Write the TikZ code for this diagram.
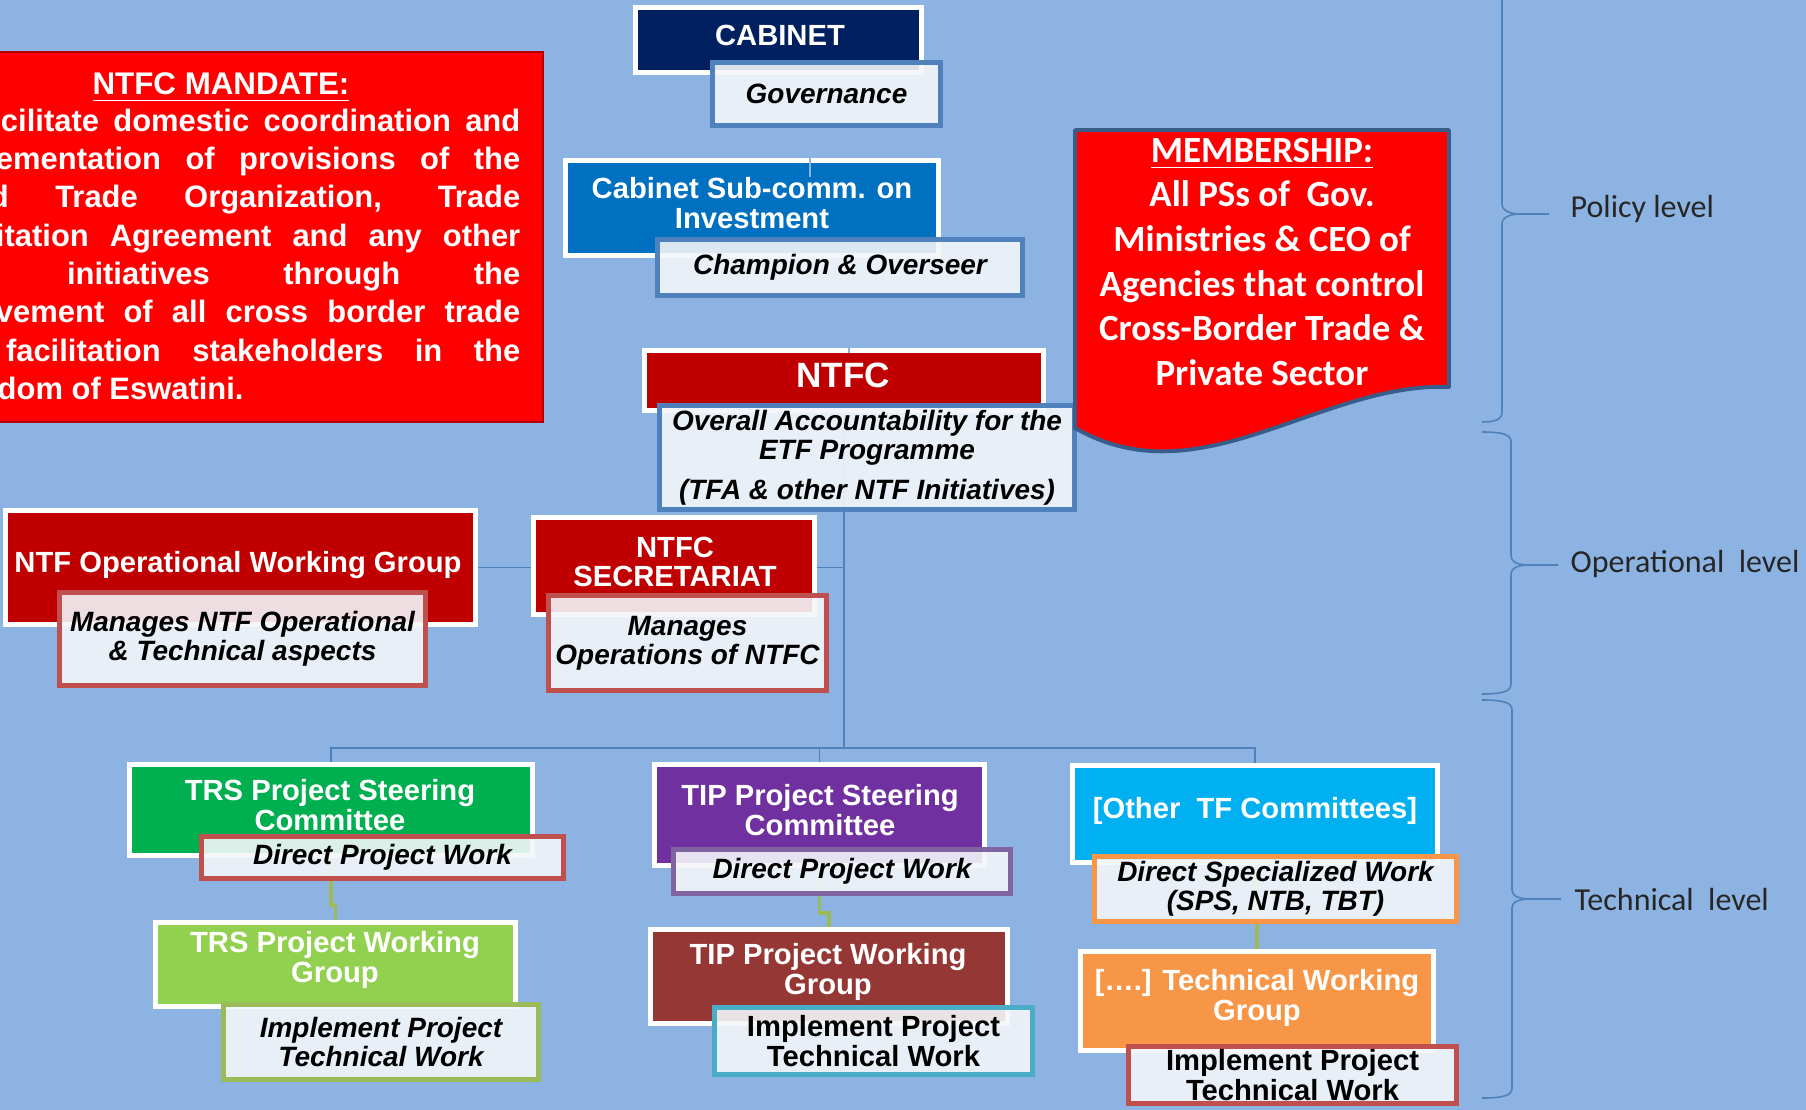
\documentclass[tikz,border=0pt]{standalone}
\usepackage{fontspec}
\setmainfont{Liberation Sans}
\newfontfamily\calibri{Carlito}
\usetikzlibrary{positioning}
\pgfdeclarelayer{back}
\pgfsetlayers{back,main}

\definecolor{bgblue}{HTML}{8DB3E2}
\definecolor{linkblue}{HTML}{4F81BD}
\definecolor{navy}{HTML}{002060}
\definecolor{subblue}{HTML}{0070C0}
\definecolor{deepred}{HTML}{C00000}
\definecolor{trsgreen}{HTML}{00B050}
\definecolor{limegreen}{HTML}{92D050}
\definecolor{tippurple}{HTML}{7030A0}
\definecolor{tipbrown}{HTML}{953735}
\definecolor{othcyan}{HTML}{00B0F0}
\definecolor{othorange}{HTML}{F79646}
\definecolor{paper}{HTML}{F3F6FA}
\definecolor{roleblue}{HTML}{4F81BD}
\definecolor{rolered}{HTML}{C0504D}
\definecolor{roleolive}{HTML}{9BBB59}
\definecolor{rolepurple}{HTML}{8064A2}
\definecolor{roleaqua}{HTML}{4BACC6}
\definecolor{memborder}{HTML}{385D8A}

\newcommand\unitfont{\bfseries\fontsize{8.3pt}{8.5pt}\selectfont}
\newcommand\rolefont{\bfseries\itshape\fontsize{7.95pt}{8.2pt}\selectfont}

\tikzset{
  unitbox/.style={draw=white,line width=1.42pt,inner sep=0pt},
  unittext/.style={text=white,align=center,inner sep=0pt,font=\unitfont},
  rolebox/.style={fill=paper,fill opacity=.9,text opacity=1,line width=1.3pt,
    align=center,inner sep=0pt,font=\rolefont},
  upright/.style={font=\bfseries\fontsize{8.3pt}{8.4pt}\selectfont},
  link/.style={draw=linkblue,line width=.5pt},
  worklink/.style={draw=roleolive,line width=1.1pt},
  stub/.style={draw=bgblue,line width=.45pt},
  brace/.style={draw=linkblue,line width=.45pt},
  mandline/.style={text=white,inner sep=0pt,font=\bfseries\fontsize{8.8pt}{9pt}\selectfont},
  memtext/.style={text=white,align=center,inner sep=0pt,
    font=\calibri\bfseries\fontsize{10.5pt}{12.7pt}\selectfont},
  level/.style={anchor=west,inner sep=0pt,text=black!85,
    font=\calibri\fontsize{9.1pt}{10pt}\selectfont}
}

\begin{document}
\begin{tikzpicture}[x=0.01cm,y=-0.01cm]
\useasboundingbox (0,0) rectangle (1806,1110);

% policy level
\node[unitbox,fill=navy,minimum width=2.86cm,minimum height=.65cm] (cab) at (778.5,40) {};
\node[unittext] (cab-t) at (780,35) {CABINET};
\node[rolebox,draw=roleblue,minimum width=2.28cm,minimum height=.63cm] (gov) at (826.5,94) {Governance};
\node[unitbox,fill=subblue,minimum width=3.73cm,minimum height=.95cm] (sub) at (752,208) {};
\node[unittext] (sub-t) at (752,203) {Cabinet Sub-comm. on\\Investment};
\node[rolebox,draw=roleblue,minimum width=3.65cm,minimum height=.56cm] (champ) at (840,267.5) {Champion \& Overseer};
\node[unitbox,fill=deepred,minimum width=3.99cm,minimum height=.60cm] (ntfc) at (844,380.5) {};
\node[unittext,font=\bfseries\fontsize{10pt}{10pt}\selectfont] (ntfc-t) at (843,375) {NTFC};
\node[rolebox,draw=roleblue,minimum width=4.15cm,minimum height=1.04cm] (overall) at (867,457.5)
  {\rule{0pt}{.06cm}Overall Accountability for the\\ETF Programme\\[.11cm](TFA \& other NTF Initiatives)};

% operational level
\node[unitbox,fill=deepred,minimum width=4.70cm,minimum height=1.14cm] (opwg) at (240.5,567.5) {};
\node[unittext] (opwg-t) at (238,565) {NTF Operational Working Group};
\node[rolebox,draw=rolered,minimum width=3.66cm,minimum height=.93cm] (mng1) at (242.5,639) {Manages NTF Operational\\\& Technical aspects};
\node[unitbox,fill=deepred,minimum width=2.81cm,minimum height=.97cm] (sec) at (674,566) {};
\node[unittext] (sec-t) at (675,562) {NTFC\\SECRETARIAT};
\node[rolebox,draw=rolered,minimum width=2.78cm,minimum height=.95cm] (mng2) at (687.5,643) {Manages\\Operations of NTFC};

% technical level
\node[unitbox,fill=trsgreen,minimum width=4.03cm,minimum height=.91cm] (trssc) at (331,810) {};
\node[unittext] (trssc-t) at (330,805) {TRS Project Steering\\Committee};
\node[rolebox,draw=rolered,minimum width=3.62cm,minimum height=.42cm] (dpw1) at (382.5,857.5) {Direct Project Work};
\node[unitbox,fill=limegreen,minimum width=3.60cm,minimum height=.84cm] (trswg) at (335.5,964.5) {};
\node[unittext] (trswg-t) at (335,960) {TRS Project Working\\Group};
\node[rolebox,draw=roleolive,minimum width=3.15cm,minimum height=.75cm] (impl1) at (381,1042) {Implement Project\\Technical Work};

\node[unitbox,fill=tippurple,minimum width=3.30cm,minimum height=1.01cm] (tipsc) at (819.5,815) {};
\node[unittext] (tipsc-t) at (820,810) {TIP Project Steering\\Committee};
\node[rolebox,draw=rolepurple,minimum width=3.37cm,minimum height=.44cm] (dpw2) at (842,871.5) {Direct Project Work};
\node[unitbox,fill=tipbrown,minimum width=3.57cm,minimum height=.94cm] (tipwg) at (829,976.5) {};
\node[unittext] (tipwg-t) at (828,972) {TIP Project Working\\Group};
\node[rolebox,upright,draw=roleaqua,minimum width=3.18cm,minimum height=.67cm] (impl2) at (873.5,1041) {Implement Project\\Technical Work};

\node[unitbox,fill=othcyan,minimum width=3.65cm,minimum height=.97cm] (othsc) at (1255,814) {};
\node[unittext] (othsc-t) at (1255,811) {[Other\ \ TF Committees]};
\node[rolebox,draw=othorange,minimum width=3.62cm,minimum height=.65cm] (dsw) at (1275.5,889) {Direct Specialized Work\\(SPS, NTB, TBT)};
\node[unitbox,fill=othorange,minimum width=3.53cm,minimum height=.99cm] (othwg) at (1257,1001) {};
\node[unittext] (othwg-t) at (1257,998) {[….] Technical Working\\Group};
\node[rolebox,upright,draw=rolered,minimum width=3.28cm,minimum height=.57cm] (impl3) at (1292.5,1075) {Implement Project\\Technical Work};

% connectors behind the boxes
\begin{pgfonlayer}{back}
\fill[bgblue] (0,0) rectangle (1806,1110);
\coordinate (busy) at (0,748);
\draw[link] (ntfc.south) -- (ntfc.south |- busy);
\draw[link] (opwg.east) -- (opwg.east -| ntfc.south);
\draw[link] (trssc.north) |- (othsc.north |- busy) -- (othsc.north);
\draw[link] (tipsc.north) -- (tipsc.north |- busy);
\draw[worklink] (trssc.south) -- ++(0,47) -| (trswg.north);
\draw[worklink] (tipsc.south) -- ++(0,45) -| (tipwg.north);
\draw[worklink] (othsc.south) -- ++(0,45) -| (othwg.north);
\end{pgfonlayer}
\draw[stub] (gov.south) ++(-16.5,0) -- ++(0,49);
\draw[stub] (champ.south) ++(9,0) -- ++(0,55);

% membership
\draw[draw=memborder,line width=1.1pt,line join=round,fill=red] (1075,130) -- (1449,130) -- (1449,387)
  .. controls (1320,382) and (1200,500) .. (1075,428) -- cycle;
\node[memtext] (member) at (1262,262) {\underline{MEMBERSHIP:}\\All PSs of\ \ Gov.\\Ministries \& CEO of\\Agencies that control\\Cross-Border Trade \&\\Private Sector};

% mandate
\draw[fill=red,draw=red!70!black,line width=.6pt] (-5,52) rectangle (543,422);
\node[mandline,anchor=base,font=\bfseries\fontsize{8.9pt}{9pt}\selectfont] (mandate) at (221,95) {\underline{NTFC MANDATE:}};
\foreach \y/\w/\t [count=\i] in {132/5.19/{cilitate domestic coordination and},
  170/5.24/{ementation of provisions of the}, 208/5.30/{d Trade Organization, Trade},
  247/5.24/{itation Agreement and any other}, 285/4.53/{initiatives through the},
  323/5.24/{vement of all cross border trade}, 362/5.14/{facilitation stakeholders in the}}
  \node[mandline,anchor=base east] (m\i) at (521,\y) {\makebox[\w cm][s]{\t}};
\node[mandline,anchor=base west] (m8) at (-3,400) {dom of Eswatini.};

% levels
\draw[brace] (1502,-5) -- (1502,204) .. controls (1502,211) and (1510,214) .. (1522,214) -- (1549,214)
  (1522,214) .. controls (1510,214) and (1502,217) .. (1502,224) -- (1502,412) .. controls (1502,419) and (1496,422) .. (1482,422);
\draw[brace] (1482,432) .. controls (1504,432) and (1511,435) .. (1511,442) -- (1511,555) .. controls (1511,562) and (1517,565) .. (1530,565) -- (1558,565)
  (1530,565) .. controls (1517,565) and (1511,568) .. (1511,575) -- (1511,684) .. controls (1511,691) and (1504,694) .. (1482,694);
\draw[brace] (1482,700) .. controls (1505,700) and (1512,703) .. (1512,710) -- (1512,890) .. controls (1512,896) and (1518,899) .. (1532,899) -- (1561,899)
  (1532,899) .. controls (1518,899) and (1512,902) .. (1512,908) -- (1512,1088) .. controls (1512,1095) and (1505,1098) .. (1482,1098);
\node[level] (policy) at (1570,209) {Policy level};
\node[level] (oper) at (1570,564) {Operational\ \ level};
\node[level] (tech) at (1574,900) {Technical\ \ level};
\end{tikzpicture}
\end{document}
